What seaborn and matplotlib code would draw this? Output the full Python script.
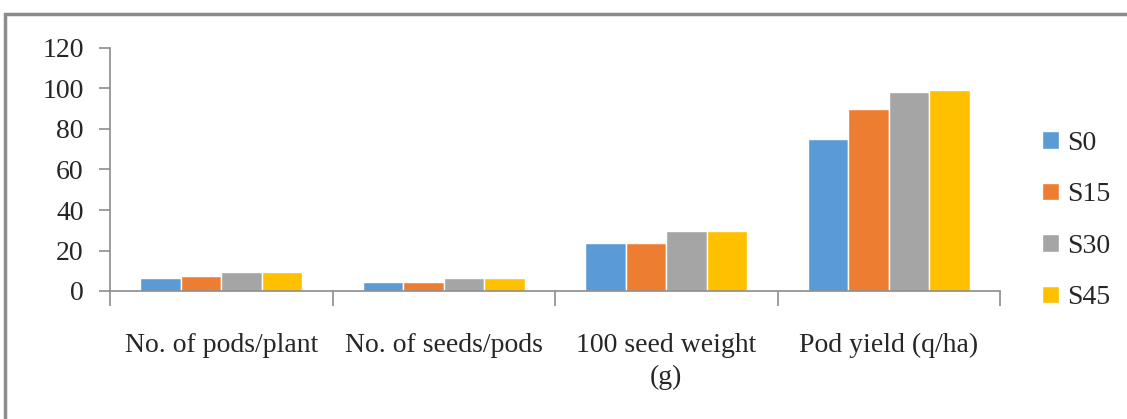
import matplotlib.pyplot as plt
import matplotlib.patches as mpatches
import numpy as np
import pandas as pd
import seaborn as sns

categories = ['No. of pods/plant', 'No. of seeds/pods', '100 seed weight\n(g)', 'Pod yield (q/ha)']
series = ['S0', 'S15', 'S30', 'S45']
s0 = [6.5, 4.5, 23.5, 75]
s15 = [7.5, 4.5, 23.5, 90]
s30 = [9.5, 6.5, 29.5, 98.5]
s45 = [9.5, 6.5, 29.5, 99.5]
colors = ['#5B9BD5', '#ED7D31', '#A5A5A5', '#FFC000']

sns.set_style('white')
plt.rcParams['font.family'] = ['Liberation Serif', 'DejaVu Serif']

rows = []
for name, vals in zip(series, [s0, s15, s30, s45]):
    for cat, v in zip(categories, vals):
        rows.append({'category': cat, 'series': name, 'value': v})
df = pd.DataFrame(rows)

fig = plt.figure(figsize=(11.27, 4.19), dpi=100)
ax = fig.add_axes([110 / 1127, 1 - 291 / 419, 890 / 1127, 243 / 419])

sns.barplot(data=df, x='category', y='value', hue='series', palette=colors,
            width=0.73, gap=0, saturation=1, ax=ax, legend=True)

ax.set_xlim(-0.5, len(categories) - 0.5)
ax.set_ylim(0, 120)
ax.set_yticks(np.arange(0, 121, 20))
ax.set_xlabel('')
ax.set_ylabel('')

for side in ['top', 'right']:
    ax.spines[side].set_visible(False)
for side in ['left', 'bottom']:
    ax.spines[side].set_color('#8c8c8c')
    ax.spines[side].set_linewidth(1.2)

ax.tick_params(axis='y', length=8, width=1.2, color='#8c8c8c', labelsize=20, pad=11, left=True)
ax.tick_params(axis='x', which='major', length=0, labelsize=20, pad=30)
ax.set_xticks(np.arange(-0.5, len(categories)), minor=True)
ax.tick_params(axis='x', which='minor', length=11, width=1.2, color='#8c8c8c', bottom=True)
for lbl in ax.get_xticklabels():
    lbl.set_linespacing(1.4)

handles, labels = ax.get_legend_handles_labels()
ax.legend(handles, labels, loc='center left', bbox_to_anchor=(1.035, 0.29),
          frameon=False, fontsize=20, handlelength=0.6, handleheight=0.6,
          handletextpad=0.3, labelspacing=0.95, borderaxespad=0)

# outer frame like the source document
fig.patches.append(mpatches.Rectangle((5 / 1127, -0.02), 1.1, 1 - 14 / 419 + 0.02,
                                      transform=fig.transFigure, fill=False,
                                      edgecolor='#8c8c8c', linewidth=2.5))

plt.savefig('out.png', dpi=100)
